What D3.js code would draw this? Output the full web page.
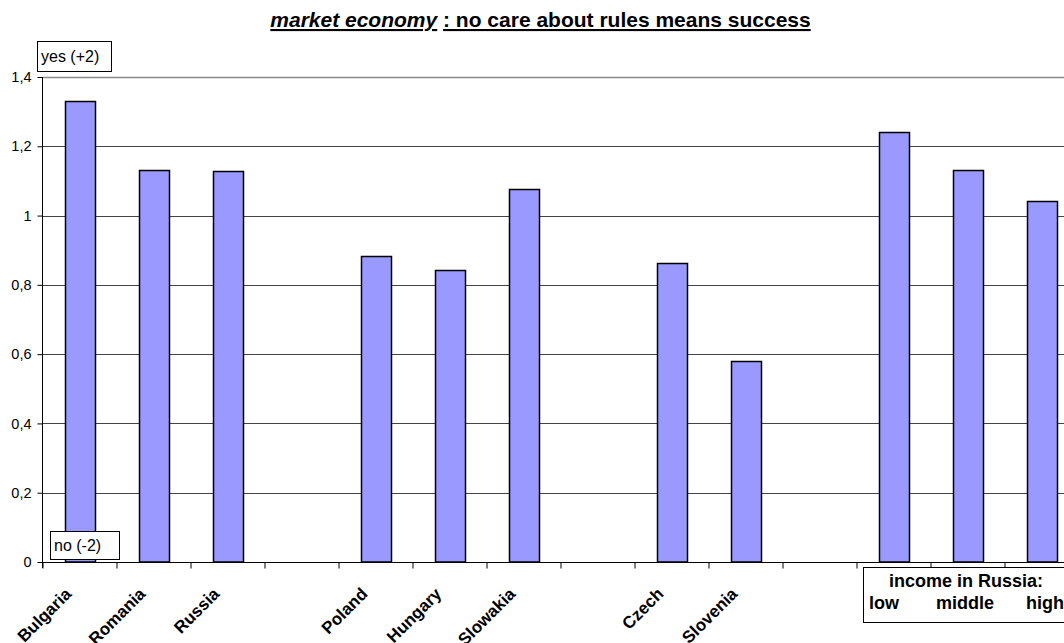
<!DOCTYPE html>
<html><head><meta charset="utf-8">
<script src="https://cdn.jsdelivr.net/npm/d3@7"></script>
<style>
html,body{margin:0;padding:0;background:#fff;}
svg{display:block;font-family:Arial,"Liberation Sans",sans-serif;}
</style></head>
<body>
<svg id="chart" width="1064" height="643"></svg>
<script>
const categories = ["Bulgaria","Romania","Russia","","Poland","Hungary","Slowakia","","Czech","Slovenia","","low","middle","high"];
const values = [1.331,1.132,1.130,null,0.882,0.844,1.077,null,0.864,0.579,null,1.242,1.131,1.042];
const yTicks = [0,0.2,0.4,0.6,0.8,1,1.2,1.4];
const rotatedLabels = ["Bulgaria","Romania","Russia","Poland","Hungary","Slowakia","Czech","Slovenia"];
const incomeLabels = ["low","middle","high"];

(function(){
const svg = d3.select("#chart");
const pLeft = 42.5, pRight = 1078.5, pTop = 77, pBottom = 562;

const x = d3.scaleBand().domain(d3.range(categories.length)).range([pLeft, pRight]).padding(0);
const y = d3.scaleLinear().domain([0, 1.4]).range([pBottom, pTop]);
const fmt = d => String(+d.toFixed(1)).replace(".", ",");

// gridlines
svg.append("g").selectAll("line").data(yTicks.filter(d => d > 0)).join("line")
  .attr("x1", pLeft).attr("x2", pRight)
  .attr("y1", d => Math.round(y(d)) + 0.5).attr("y2", d => Math.round(y(d)) + 0.5)
  .attr("stroke", d => d === 1.4 ? "#8a8a8a" : "#444").attr("stroke-width", d => d === 1.4 ? 1.5 : 1);

// bars
const barW = 30;
svg.append("g").selectAll("rect").data(values.map((v, i) => ({v, i})).filter(d => d.v !== null)).join("rect")
  .attr("x", d => Math.round(x(d.i) + (x.bandwidth() - barW) / 2) + 0.5)
  .attr("y", d => Math.round(y(d.v)) + 0.5)
  .attr("width", barW)
  .attr("height", d => y(0) - Math.round(y(d.v)) - 0.5)
  .attr("fill", "#9999ff").attr("stroke", "#000").attr("stroke-width", 1.5);

// y axis
const yAxis = d3.axisLeft(y).tickValues(yTicks).tickFormat(fmt).tickSize(5).tickPadding(6);
const gy = svg.append("g").attr("transform", `translate(${pLeft},0)`).call(yAxis);
gy.select(".domain").attr("stroke", "#000").attr("d", `M0,${pTop}V${pBottom + 6}`);
gy.selectAll(".tick line").attr("stroke", "#000");
gy.selectAll(".tick text").attr("font-size", 14.5).attr("font-family", "Arial, 'Liberation Sans', sans-serif").attr("fill", "#000");

// x axis
const xb = d3.scaleLinear().domain([0, categories.length]).range([pLeft, pRight]);
const gx = svg.append("g").attr("transform", `translate(0,${pBottom + 0.5})`)
  .call(d3.axisBottom(xb).tickValues(d3.range(categories.length + 1)).tickSize(6).tickFormat(""));
gx.select(".domain").attr("stroke", "#000").attr("d", `M${pLeft},0H${pRight}`);
gx.selectAll(".tick line").attr("stroke", "#000");

// rotated category labels
svg.append("g").selectAll("text").data(categories.map((c, i) => ({c, i})).filter(d => rotatedLabels.includes(d.c))).join("text")
  .attr("transform", d => `translate(${x(d.i) + x.bandwidth() / 2 - 7},${pBottom + 33}) rotate(-45)`)
  .attr("text-anchor", "end").attr("font-weight", "bold").attr("font-size", 17)
  .text(d => d.c);

// title
const title = svg.append("text").attr("x", 540.5).attr("y", 27).attr("text-anchor", "middle")
  .attr("font-weight", "bold").attr("font-size", 21);
title.append("tspan").attr("font-style", "italic").attr("text-decoration", "underline").text("market economy");
title.append("tspan").text(" ");
title.append("tspan").attr("text-decoration", "underline").text(": no care about rules means success");

// yes / no boxes
svg.append("rect").attr("x", 37.5).attr("y", 41.5).attr("width", 74).attr("height", 30).attr("fill", "#fff").attr("stroke", "#000");
svg.append("text").attr("x", 41).attr("y", 62).attr("font-size", 16).text("yes (+2)");
svg.append("rect").attr("x", 50.5).attr("y", 531.5).attr("width", 69).attr("height", 28).attr("fill", "#fff").attr("stroke", "#000");
svg.append("text").attr("x", 54).attr("y", 551).attr("font-size", 16).text("no (-2)");

// income box
svg.append("rect").attr("x", 863.5).attr("y", 567.5).attr("width", 220).attr("height", 55).attr("fill", "#fff").attr("stroke", "#000");
svg.append("text").attr("x", 966).attr("y", 587).attr("text-anchor", "middle").attr("font-weight", "bold").attr("font-size", 18).text("income in Russia:");
svg.append("g").selectAll("text").data(incomeLabels).join("text")
  .attr("x", (d, i) => [869, 936, 1026][i]).attr("y", 609)
  .attr("font-weight", "bold").attr("font-size", 18).text(d => d);
})();
</script>
</body></html>
